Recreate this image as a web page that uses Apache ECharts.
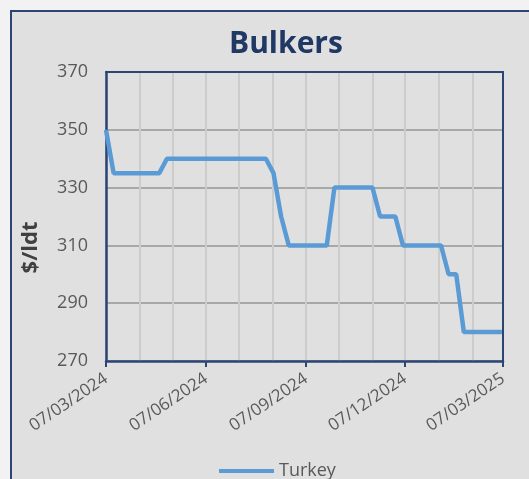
<!DOCTYPE html>
<html>
<head>
<meta charset="utf-8">
<script src="https://cdn.jsdelivr.net/npm/echarts@6/dist/echarts.min.js"></script>
<style>
	html, body { margin: 0; padding: 0; overflow: hidden; background: #f2f2f2; }
	#box { position: absolute; left: 10px; top: 10px; width: 560px; height: 520px;
		border: 2px solid #2b4574; background: #e0e0e0; }
	#main { position: absolute; left: 0; top: 0; width: 529px; height: 479px; }
</style>
</head>
<body>
<div id="box"></div>
<div id="main"></div>
<script>
// dates where the price changes (dd/mm/yyyy), weekly readings
var dates = ['07/03/2024', '14/03/2024', '25/04/2024', '02/05/2024', '01/08/2024', '08/08/2024',
	'15/08/2024', '22/08/2024', '26/09/2024', '03/10/2024', '07/11/2024', '14/11/2024',
	'28/11/2024', '05/12/2024', '09/01/2025', '16/01/2025', '23/01/2025', '30/01/2025', '06/03/2025'];
var turkey = [350, 335, 335, 340, 340, 335, 320, 310, 310, 330, 330, 320, 320, 310, 310, 300, 300, 280, 280];

var tickDates = ['07/03/2024', '07/06/2024', '07/09/2024', '07/12/2024', '07/03/2025'];
var gridDates = ['07/03/2024', '07/04/2024', '07/05/2024', '07/06/2024', '07/07/2024', '07/08/2024',
	'07/09/2024', '07/10/2024', '07/11/2024', '07/12/2024', '07/01/2025', '07/02/2025', '07/03/2025'];
var yMin = 270, yMax = 370, yStep = 20;

function toTime(s) {
	var p = s.split('/');
	return new Date(+p[2], +p[1] - 1, +p[0]).getTime();
}
function pad(n) { return n < 10 ? '0' + n : '' + n; }

var data = [];
for (var i = 0; i < dates.length; i++) {
	data.push([toTime(dates[i]), turkey[i]]);
}

var myChart = echarts.init(document.getElementById('main'));
var labelColor = '#595959';
var navy = '#2b4574';
var xMin = toTime(tickDates[0]);
var xMax = toTime(tickDates[tickDates.length - 1]);

option = {
	animation: false,
	textStyle: { fontFamily: 'Open Sans' },
	title: {
		text: 'Bulkers',
		left: 224,
		top: 24,
		textStyle: { color: '#1f3864', fontSize: 30, fontWeight: 'bold', fontFamily: 'Open Sans' }
	},
	legend: {
		left: 214,
		top: 457,
		icon: 'rect',
		itemWidth: 55,
		itemHeight: 4,
		itemGap: 4,
		textStyle: { color: labelColor, fontSize: 18, fontFamily: 'Open Sans' },
		data: ['Turkey']
	},
	grid: {
		left: 106,
		right: 26,
		top: 72,
		bottom: 118
	},
	xAxis: [{
		// bottom axis: quarterly ticks and labels
		type: 'value',
		min: xMin,
		max: xMax,
		position: 'bottom',
		z: 3,
		axisLine: { lineStyle: { color: navy, width: 2.5 } },
		axisTick: {
			show: true,
			length: 6,
			lineStyle: { color: navy, width: 2 },
			customValues: tickDates.map(toTime)
		},
		axisLabel: {
			customValues: tickDates.map(toTime),
			rotate: 34,
			color: labelColor,
			fontSize: 17,
			fontFamily: 'Open Sans',
			margin: 16,
			formatter: function (v) {
				var d = new Date(v);
				return pad(d.getDate()) + '/' + pad(d.getMonth() + 1) + '/' + d.getFullYear();
			}
		},
		splitLine: { show: false }
	}, {
		// top axis: plot border and monthly gridlines
		type: 'value',
		min: xMin,
		max: xMax,
		position: 'top',
		z: 3,
		axisLine: { show: true, lineStyle: { color: navy, width: 2 } },
		axisTick: { show: false, customValues: gridDates.map(toTime) },
		axisLabel: { show: false },
		splitLine: { show: true, lineStyle: { color: '#cccccc', width: 2 } }
	}],
	yAxis: [{
		type: 'value',
		min: yMin,
		max: yMax,
		interval: yStep,
		name: '$/ldt',
		nameLocation: 'middle',
		nameGap: 64,
		nameTextStyle: { color: '#404040', fontSize: 22, fontWeight: 'bold', fontFamily: 'Open Sans', padding: [0, 62, 0, 0] },
		z: 3,
		axisLine: { show: true, lineStyle: { color: navy, width: 2.5 } },
		axisTick: { show: false },
		axisLabel: { color: labelColor, fontSize: 18, fontFamily: 'Open Sans', margin: 18 },
		splitLine: { lineStyle: { color: '#a8a8a8', width: 2 } }
	}, {
		type: 'value',
		min: yMin,
		max: yMax,
		interval: yStep,
		position: 'right',
		z: 3,
		axisLine: { show: true, lineStyle: { color: navy, width: 2 } },
		axisTick: { show: false },
		axisLabel: { show: false },
		splitLine: { show: false }
	}],
	series: [{
		name: 'Turkey',
		type: 'line',
		xAxisIndex: 0,
		yAxisIndex: 0,
		symbol: 'none',
		lineStyle: { color: '#5b9bd5', width: 4.5 },
		itemStyle: { color: '#5b9bd5' },
		data: data
	}]
};
myChart.setOption(option);
</script>
</body>
</html>
